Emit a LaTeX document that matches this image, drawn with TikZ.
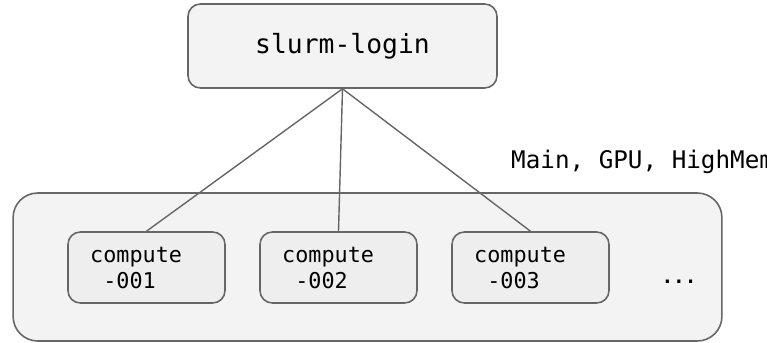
\documentclass[tikz,border=0pt]{standalone}
\usepackage{fontspec}
\setmonofont{DejaVu Sans Mono}
\usetikzlibrary{positioning}
\definecolor{boxfill}{HTML}{F3F3F3}
\definecolor{nodefill}{HTML}{EEEEEE}
\definecolor{edgegray}{HTML}{666666}

\begin{document}
\begin{tikzpicture}[x=0.02cm, y=-0.02cm,
    loginbox/.style={rectangle, draw=edgegray, fill=boxfill, line width=0.9pt, rounded corners=7pt, minimum width=6.18cm, minimum height=1.68cm, font=\fontsize{15}{18}\ttfamily},
    clusterbox/.style={rectangle, draw=edgegray, fill=boxfill, line width=0.9pt, rounded corners=14pt, minimum width=14.18cm, minimum height=2.96cm},
    computebox/.style={rectangle, draw=edgegray, fill=nodefill, line width=0.9pt, rounded corners=7pt, minimum width=3.14cm, minimum height=1.42cm},
    label/.style={font=\fontsize{12.4}{15}\ttfamily, align=left},
    link/.style={draw=edgegray, line width=0.8pt}
]
    \useasboundingbox (0,0) rectangle (767,342);

    % Nodes
    \node (login) [loginbox] at (342.5,46) {slurm-login};
    \node (cluster) [clusterbox] at (367.5,267) {};
    \node (c1) [computebox] at (146.5,267.5) {};
    \node (c2) [computebox] at (338.5,267.5) {};
    \node (c3) [computebox] at (530.5,267.5) {};

    \node (t1) [label, anchor=west] at (84,268) {compute\\\ -001};
    \node (t2) [label, anchor=west] at (276,268) {compute\\\ -002};
    \node (t3) [label, anchor=west] at (468,268) {compute\\\ -003};
    \node (more) [font=\fontsize{11}{13}\bfseries\ttfamily, anchor=base] at (679,283) {...};
    \node (parts) [font=\fontsize{13.8}{16}\ttfamily, anchor=base west] at (505,168) {Main, GPU, HighMem};

    % Links
    \draw [link] (login.south) -- (c1.north);
    \draw [link] (login.south) -- (c2.north);
    \draw [link] (login.south) -- (c3.north);
\end{tikzpicture}
\end{document}
